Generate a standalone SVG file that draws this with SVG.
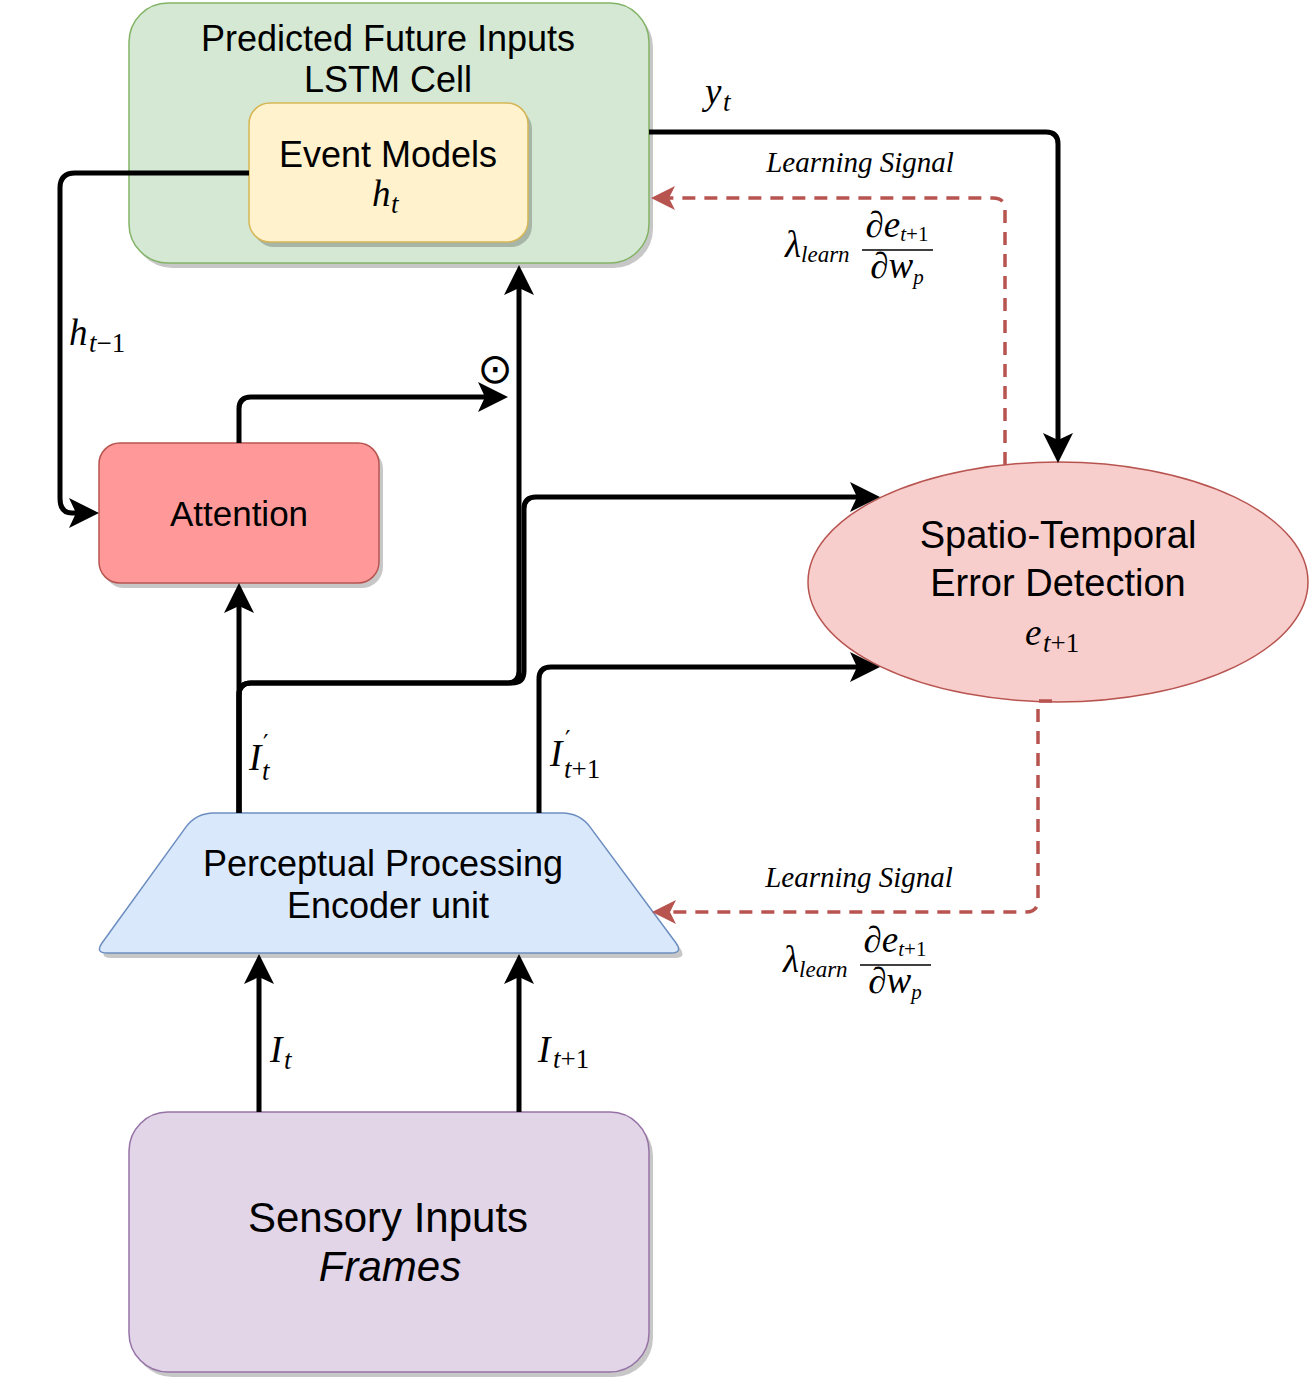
<svg xmlns="http://www.w3.org/2000/svg" width="1312" height="1381" viewBox="0 0 1312 1381">
<style>
.t{font-family:"Liberation Sans",Arial,Helvetica,sans-serif;fill:#000;text-anchor:middle}
.m{font-family:"Liberation Serif","Times New Roman",serif;font-style:italic;fill:#000;font-size:37px}
.s{font-size:27px}
.r{font-style:normal}
.p{font-family:"DejaVu Serif",serif;font-style:normal;font-size:24px}
.ls{font-family:"Liberation Serif","Times New Roman",serif;font-style:italic;font-size:29px;text-anchor:middle}
.sh{fill:#000;opacity:.22}
.c{fill:none;stroke:#000;stroke-width:5;marker-end:url(#ah)}
.d{fill:none;stroke:#b85450;stroke-width:3.5;stroke-dasharray:13 9;marker-end:url(#rh)}
</style>
<defs>
<marker id="ah" markerUnits="userSpaceOnUse" markerWidth="32" markerHeight="32" viewBox="0 -16 32 32" refX="7" refY="0" orient="auto"><path d="M0,-15 L30,0 L0,15 L7,0 Z" fill="#000"/></marker>
<marker id="rh" markerUnits="userSpaceOnUse" markerWidth="26" markerHeight="26" viewBox="0 -13 26 26" refX="6" refY="0" orient="auto"><path d="M0,-12 L24,0 L0,12 L6,0 Z" fill="#b85450"/></marker>
</defs>
<rect width="1312" height="1381" fill="#fff"/>

<g id="lstm">
<rect class="sh" x="133" y="8" width="520" height="260" rx="39"/>
<rect x="129" y="3" width="520" height="260" rx="39" fill="#d5e8d4" stroke="#82b366" stroke-width="1.5"/>
<text class="t" x="388" y="51" font-size="36">Predicted Future Inputs</text>
<text class="t" x="388" y="92" font-size="36">LSTM Cell</text>
</g>
<g id="event">
<rect class="sh" x="253" y="108" width="279" height="139" rx="21"/>
<rect x="249" y="103" width="279" height="139" rx="21" fill="#fff2cc" stroke="#d6b656" stroke-width="1.5"/>
<text class="t" x="388" y="167" font-size="36">Event Models</text>
<text class="m" x="372" y="206">h<tspan class="s" x="391" y="213">t</tspan></text>
</g>
<g id="attention">
<rect class="sh" x="103" y="448" width="280" height="140" rx="21"/>
<rect x="99" y="443" width="280" height="140" rx="21" fill="#ff9999" stroke="#b85450" stroke-width="1.5"/>
<text class="t" x="239" y="526" font-size="35">Attention</text>
</g>
<g id="error">
<ellipse cx="1058" cy="582" rx="250" ry="120" fill="#f8cecc" stroke="#b85450" stroke-width="1.5"/>
<text class="t" x="1058" y="548" font-size="38">Spatio-Temporal</text>
<text class="t" x="1058" y="596" font-size="38">Error Detection</text>
<text class="m" x="1025" y="645">e<tspan class="s" x="1043" y="652">t<tspan class="r">+1</tspan></tspan></text>
</g>
<g id="encoder">
<path class="sh" transform="translate(4,5)" d="M214,813 H562 Q580,813 590.5,827.6 L676,943 Q683,953 671,953 H107 Q95,953 102,943 L185.5,827.6 Q196,813 214,813 Z"/>
<path d="M214,813 H562 Q580,813 590.5,827.6 L676,943 Q683,953 671,953 H107 Q95,953 102,943 L185.5,827.6 Q196,813 214,813 Z" fill="#dae8fc" stroke="#6c8ebf" stroke-width="1.5"/>
<text class="t" x="383" y="876" font-size="36">Perceptual Processing</text>
<text class="t" x="388" y="918" font-size="36">Encoder unit</text>
</g>
<g id="sensory">
<rect class="sh" x="133" y="1117" width="520" height="260" rx="39"/>
<rect x="129" y="1112" width="520" height="260" rx="39" fill="#e1d5e7" stroke="#9673a6" stroke-width="1.5"/>
<text class="t" x="388" y="1232" font-size="42">Sensory Inputs</text>
<text class="t" x="390" y="1281" font-size="42" font-style="italic">Frames</text>
</g>

<g id="connectors">
<path class="c" d="M249,173 H75 Q60,173 60,188 V498 Q60,513 72,513 H76"/>
<path class="c" d="M239,443 V409 Q239,397 251,397 H485"/>
<path class="c" d="M239,813 V606"/>
<path class="c" d="M239,813 V695 Q239,683 251,683 H507 Q519,683 519,671 V288"/>
<path class="c" d="M239,813 V695 Q239,683 251,683 H512 Q524,683 524,671 V509 Q524,497 536,497 H857"/>
<path class="c" d="M539,813 V679 Q539,667 551,667 H857"/>
<path class="c" d="M649,132 H1046 Q1058,132 1058,144 V440"/>
<path class="c" d="M259,1112 V977"/>
<path class="c" d="M519,1112 V977"/>
<path class="d" d="M1005,465 V210 Q1005,198 993,198 H669"/>
<path class="d" d="M1052,701 H1038 V900 Q1038,912 1026,912 H670"/>
</g>

<g id="labels">
<text class="m" x="705" y="104">y<tspan class="s" x="723" y="111">t</tspan></text>
<text class="m" x="69" y="345">h<tspan class="s" x="89" y="352">t<tspan class="r">−1</tspan></tspan></text>
<text x="495" y="383" font-family="DejaVu Sans,sans-serif" font-size="42" text-anchor="middle">⊙</text>
<text class="m" x="249" y="770">I<tspan class="p" x="263" y="752">′</tspan><tspan class="s" x="262" y="780">t</tspan></text>
<text class="m" x="550" y="766">I<tspan class="p" x="565" y="748">′</tspan><tspan class="s" x="564" y="778">t<tspan class="r">+1</tspan></tspan></text>
<text class="m" x="270" y="1062">I<tspan class="s" x="284" y="1069">t</tspan></text>
<text class="m" x="538" y="1062">I<tspan class="s" x="553" y="1068">t<tspan class="r">+1</tspan></tspan></text>
<text class="ls" x="860" y="172">Learning Signal</text>
<text class="ls" x="859" y="887">Learning Signal</text>
<g id="frac1">
<text class="m" x="785" y="257" font-size="31">λ<tspan font-size="23" dy="5">learn</tspan></text>
<text class="m" x="897" y="237" font-size="29" text-anchor="middle">∂e<tspan font-size="21" dy="4">t<tspan class="r">+1</tspan></tspan></text>
<line x1="862" y1="250" x2="933" y2="250" stroke="#000" stroke-width="1.5"/>
<text class="m" x="897" y="278" font-size="29" text-anchor="middle">∂w<tspan font-size="21" dy="6">p</tspan></text>
</g>
<g id="frac2">
<text class="m" x="783" y="972" font-size="31">λ<tspan font-size="23" dy="5">learn</tspan></text>
<text class="m" x="895" y="952" font-size="29" text-anchor="middle">∂e<tspan font-size="21" dy="4">t<tspan class="r">+1</tspan></tspan></text>
<line x1="860" y1="965" x2="931" y2="965" stroke="#000" stroke-width="1.5"/>
<text class="m" x="895" y="993" font-size="29" text-anchor="middle">∂w<tspan font-size="21" dy="6">p</tspan></text>
</g>
</g>
</svg>
